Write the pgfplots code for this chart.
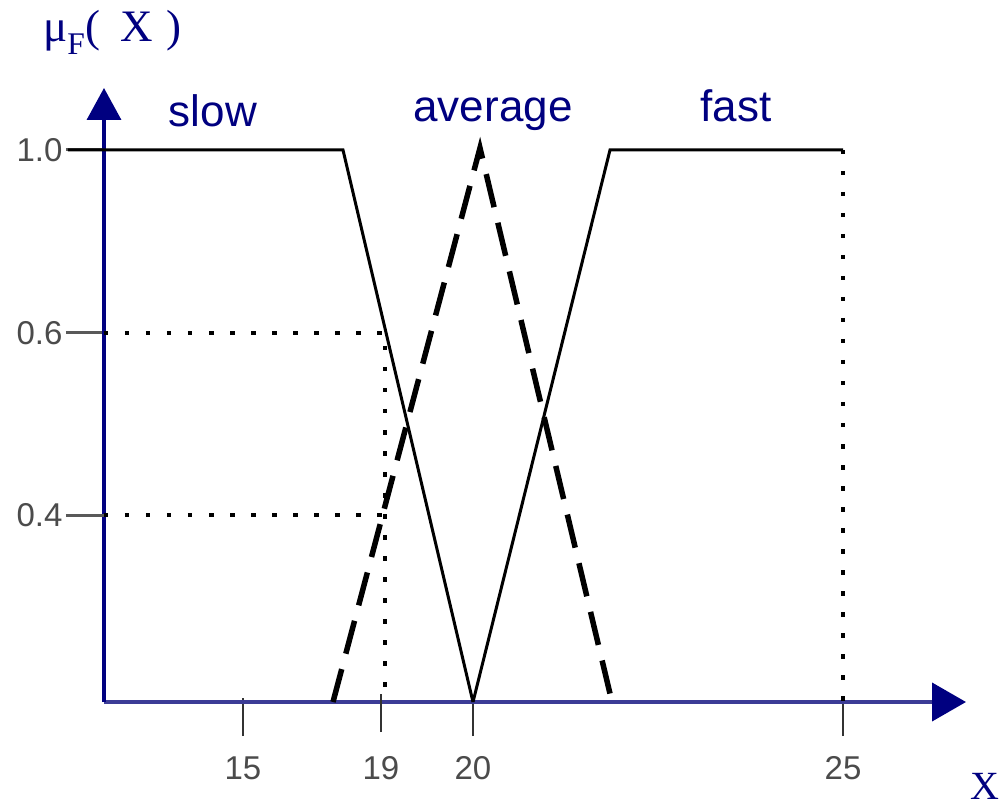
\documentclass[border=0pt]{standalone}
\usepackage{fontspec}
\setmainfont{Liberation Sans}
\newfontfamily\timesfont{Liberation Serif}
\usepackage{pgfplots}
\pgfplotsset{compat=1.18}
\usetikzlibrary{arrows.meta}
\definecolor{navy}{RGB}{0,0,128}
\definecolor{xaxis}{RGB}{60,60,150}
\definecolor{ticklab}{RGB}{75,75,75}
\begin{document}
\begin{tikzpicture}
\useasboundingbox (-104pt,-104pt) rectangle (902pt,702pt);
\clip (-104pt,-104pt) rectangle (902pt,702pt);
\begin{axis}[
  x=1pt, y=1pt,
  xmin=0, xmax=862, ymin=0, ymax=614,
  axis lines=left,
  clip=false,
  x axis line style={draw=xaxis, line width=4pt, -{Triangle[length=34pt,width=38pt,color=navy]}},
  y axis line style={draw=navy, line width=3.5pt, -{Triangle[length=32pt,width=34pt,color=navy]}},
  xtick={139,369,739}, xticklabels={15,20,25},
  extra x ticks={277}, extra x tick labels={19},
  ytick={552,369}, yticklabels={1.0,0.6},
  extra y ticks={187}, extra y tick labels={0.4},
  tick align=outside,
  major tick length=38pt,
  xtick style={draw=black!80, line width=2.5pt, yshift=4pt},
  ytick style={draw=black!65, line width=3pt},
  extra x tick style={major tick style={draw=black!45, line width=2.5pt, yshift=4pt}},
  extra y tick style={major tick style={draw=black!40, line width=5pt}},
  tick label style={font=\fontsize{33}{36}\selectfont, text=ticklab},
  xticklabel style={yshift=-13pt},
]
% slow
\addplot[black, line width=3pt] coordinates {(-36,552) (239,552) (369,0)};
% fast
\addplot[black, line width=3pt] coordinates {(369,0) (506,552) (739,552)};
% average
\addplot[black, line width=5.5pt, dash pattern=on 34pt off 16pt] coordinates {(229,0) (376,554) (508,0)};
% dotted guides
\addplot[black, line width=4.5pt, dash pattern=on 4.5pt off 16.5pt] coordinates {(0,369) (281,369) (281,0)};
\addplot[black, line width=4.5pt, dash pattern=on 4.5pt off 16.5pt] coordinates {(0,187) (279,187)};
\addplot[black, line width=4.5pt, dash pattern=on 4.5pt off 16.5pt] coordinates {(739,552) (739,0)};
% labels
\node[anchor=base, text=navy, font=\fontsize{44}{50}\selectfont] at (axis cs:109,575) {slow};
\node[anchor=base, text=navy, font=\fontsize{44}{50}\selectfont] at (axis cs:389,580) {average};
\node[anchor=base, text=navy, font=\fontsize{44}{50}\selectfont] at (axis cs:632,580) {fast};
\node[anchor=base west, inner sep=0pt, text=navy, font=\timesfont\fontsize{45}{50}\selectfont] at (axis cs:-61,660) {μ\textsubscript{F}(\hspace{0.45em}X\hspace{0.3em})};
\node[anchor=base west, inner sep=0pt, text=navy, font=\timesfont\fontsize{40}{46}\selectfont] at (axis cs:866,-97) {X};
\end{axis}
\end{tikzpicture}
\end{document}
